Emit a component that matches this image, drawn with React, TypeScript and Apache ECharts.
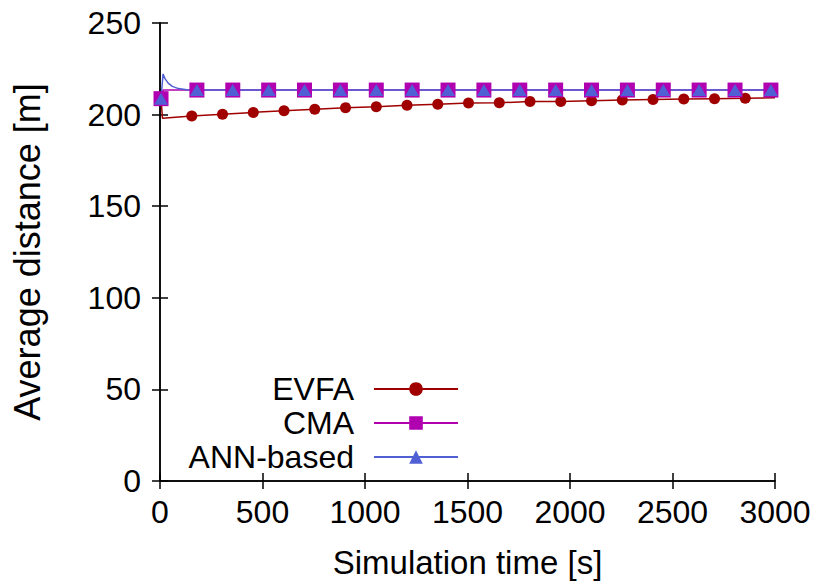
import React, { useEffect, useRef } from "react";
import * as echarts from "echarts";

const FONT = "'Liberation Sans', Arial, Helvetica, sans-serif";

const xTicks = [0, 500, 1000, 1500, 2000, 2500, 3000];
const yTicks = [0, 50, 100, 150, 200, 250];

// EVFA: line vertices (time [s], distance [m]) and whether a marker is drawn
const evfaTime = [5, 12, 155, 305, 455, 605, 755, 905, 1055, 1205, 1355, 1505, 1655, 1805, 1955, 2105, 2255, 2405, 2555, 2705, 2855, 3000];
const evfaValue = [208.7, 198.0, 199.2, 200.2, 201.2, 202.1, 202.9, 203.8, 204.3, 205.1, 205.6, 206.3, 206.5, 207.1, 207.2, 207.6, 208.0, 208.3, 208.5, 208.7, 208.9, 209.2];
const evfaMarker = [1, 0, 1, 1, 1, 1, 1, 1, 1, 1, 1, 1, 1, 1, 1, 1, 1, 1, 1, 1, 1, 0];

// CMA
const cmaTime = [5, 15, 180, 355, 530, 705, 880, 1055, 1230, 1405, 1580, 1755, 1930, 2105, 2280, 2455, 2630, 2805, 2980, 3000];
const cmaValue = [208.7, 213.4, 213.4, 213.4, 213.4, 213.4, 213.4, 213.4, 213.4, 213.4, 213.4, 213.4, 213.4, 213.4, 213.4, 213.4, 213.4, 213.4, 213.4, 213.4];
const cmaMarker = [1, 0, 1, 1, 1, 1, 1, 1, 1, 1, 1, 1, 1, 1, 1, 1, 1, 1, 1, 0];

// ANN-based
const annTime = [5, 15, 25, 40, 60, 90, 130, 180, 355, 530, 705, 880, 1055, 1230, 1405, 1580, 1755, 1930, 2105, 2280, 2455, 2630, 2805, 2980, 3000];
const annValue = [208.7, 222.2, 219.5, 217.2, 215.4, 214.2, 213.6, 213.4, 213.4, 213.4, 213.4, 213.4, 213.4, 213.4, 213.4, 213.4, 213.4, 213.4, 213.4, 213.4, 213.4, 213.4, 213.4, 213.4, 213.4];
const annMarker = [1, 0, 0, 0, 0, 0, 0, 1, 1, 1, 1, 1, 1, 1, 1, 1, 1, 1, 1, 1, 1, 1, 1, 1, 0];

const seriesNames = ["EVFA", "CMA", "ANN-based"];
const colors = ["#a00000", "#b000b0", "#5060d4"];

function build(t: number[], v: number[], m: number[]) {
  return t.map((x, i) =>
    m[i] ? { value: [x, v[i]] } : { value: [x, v[i]], symbol: "none" }
  );
}

export default function App() {
  const ref = useRef<HTMLDivElement>(null);
  useEffect(() => {
    if (!ref.current) return;
    const chart = echarts.init(ref.current, undefined, { renderer: "svg" });
    const axisLine = { show: true, lineStyle: { color: "#000", width: 1.5 } };
    const tick = { show: true, inside: true, length: 8, lineStyle: { color: "#000", width: 1.5 } };
    const label = { fontSize: 32, fontFamily: FONT, color: "#000" };
    chart.setOption({
      animation: false,
      backgroundColor: "#fff",
      grid: { left: 160, top: 23, right: 44, bottom: 103, containLabel: false },
      legend: {
        orient: "vertical",
        align: "right",
        left: 180,
        top: 368,
        itemWidth: 84,
        itemHeight: 17,
        itemGap: 2,
        data: seriesNames,
        formatter: "{n|{name}}",
        textStyle: {
          fontSize: 32,
          fontFamily: FONT,
          color: "#000",
          rich: {
            n: { width: 169, align: "right", padding: [0, 15, 0, 0], fontSize: 32, lineHeight: 32, fontFamily: FONT, color: "#000" },
          },
        },
      },
      xAxis: [
        {
          type: "value",
          min: 0,
          max: 3000,
          interval: 500,
          position: "bottom",
          name: "Simulation time [s]",
          nameLocation: "middle",
          nameGap: 65,
          nameTextStyle: { ...label, fontSize: 33 },
          axisLine,
          axisTick: tick,
          axisLabel: { ...label, margin: 15, formatter: (v: number) => (xTicks.includes(v) ? String(v) : "") },
          splitLine: { show: false },
        },
        {
          type: "value",
          min: 0,
          max: 3000,
          interval: 500,
          position: "top",
          axisLine,
          axisTick: tick,
          axisLabel: { show: false },
          splitLine: { show: false },
        },
      ],
      yAxis: [
        {
          type: "value",
          min: 0,
          max: 250,
          interval: 50,
          position: "left",
          name: "Average distance [m]",
          nameLocation: "middle",
          nameGap: 115,
          nameTextStyle: { ...label, fontSize: 36 },
          axisLine,
          axisTick: tick,
          axisLabel: { ...label, margin: 19, formatter: (v: number) => (yTicks.includes(v) ? String(v) : "") },
          splitLine: { show: false },
        },
        {
          type: "value",
          min: 0,
          max: 250,
          interval: 50,
          position: "right",
          axisLine,
          axisTick: tick,
          axisLabel: { show: false },
          splitLine: { show: false },
        },
      ],
      series: [
        {
          name: seriesNames[0],
          type: "line",
          symbol: "circle",
          symbolSize: 11,
          showSymbol: true,
          color: colors[0],
          lineStyle: { color: colors[0], width: 1.5 },
          itemStyle: { color: colors[0] },
          data: build(evfaTime, evfaValue, evfaMarker),
        },
        {
          name: seriesNames[1],
          type: "line",
          symbol: "rect",
          symbolSize: 15,
          showSymbol: true,
          color: colors[1],
          lineStyle: { color: colors[1], width: 1.5 },
          itemStyle: { color: colors[1] },
          data: build(cmaTime, cmaValue, cmaMarker),
        },
        {
          name: seriesNames[2],
          type: "line",
          symbol: "triangle",
          symbolSize: [14, 12],
          showSymbol: true,
          color: colors[2],
          lineStyle: { color: colors[2], width: 1.5 },
          itemStyle: { color: colors[2] },
          data: build(annTime, annValue, annMarker),
        },
      ],
    });
    return () => chart.dispose();
  }, []);
  return <div ref={ref} style={{ width: 819, height: 584, position: "absolute", left: 0, top: 0 }} />;
}
